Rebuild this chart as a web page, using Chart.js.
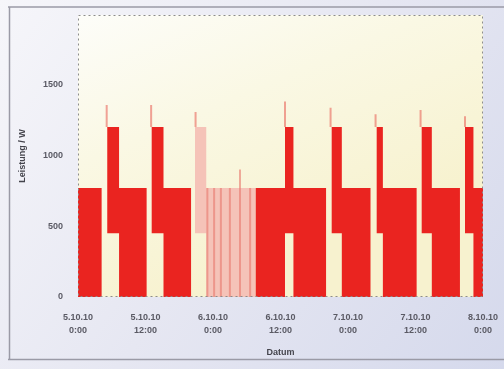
<!DOCTYPE html>
<html><head><meta charset="utf-8">
<script src="https://cdn.jsdelivr.net/npm/chart.js@4"></script>
<style>html,body{margin:0;padding:0;background:#e4e5f1;overflow:hidden}#wrap{width:504px;height:369px;position:relative}</style>
</head><body><div id="wrap"><canvas id="c" width="504" height="369"></canvas></div>
<script>
// time in hours since 5.10.10 0:00 (segment starts; last entry = end of record)
const segStart = [0, 4.2, 5.2, 7.3, 12.2, 13.1, 15.2, 20.1, 20.8, 22.8, 31.6, 36.8, 38.3, 44.1, 45.1, 46.9, 52.0, 53.1, 54.2, 60.2, 61.1, 62.9, 67.9, 68.8, 70.3, 72];
// dense on/off switching -> envelope of the trace (max / min power in W)
const redHigh  = [770, 0, 1200, 770, 0, 1200, 770, 0, 0, 0, 770, 1200, 770, 0, 1200, 770, 0, 1200, 770, 0, 1200, 770, 0, 1200, 770, 770];
const redLow   = [0, 0, 450, 0, 0, 450, 0, 0, 0, 0, 0, 450, 0, 0, 450, 0, 0, 450, 0, 0, 450, 0, 0, 450, 0, 0];
const pinkHigh = [0, 0, 0, 0, 0, 0, 0, 0, 1200, 770, 0, 0, 0, 0, 0, 0, 0, 0, 0, 0, 0, 0, 0, 0, 0, 0];
const pinkLow  = [0, 0, 0, 0, 0, 0, 0, 0, 450, 0, 0, 0, 0, 0, 0, 0, 0, 0, 0, 0, 0, 0, 0, 0, 0, 0];
// start-up peaks
const spikeT    = [5.1, 13.0, 20.9, 36.8, 44.9, 52.9, 60.9, 68.8];
const spikeTop  = [1355, 1355, 1305, 1380, 1335, 1290, 1320, 1275];
// darker streaks inside the faded section
const streakT   = [23.0, 24.2, 25.4, 27.0, 28.8, 30.6];
const streakTop = [770, 770, 770, 770, 900, 770];

const xTicks = [0, 12, 24, 36, 48, 60, 72];
const xTickLabels = [['5.10.10','0:00'],['5.10.10','12:00'],['6.10.10','0:00'],['6.10.10','12:00'],['7.10.10','0:00'],['7.10.10','12:00'],['8.10.10','0:00']];
const yTicks = [0, 500, 1000, 1500];

const pts = v => segStart.map((t, i) => ({x: t, y: v[i]}));
const vlines = (ts, tops, base) => ts.flatMap((t, i) => [{x: t, y: base}, {x: t, y: tops[i]}, {x: t, y: null}]);

const bgPlugin = {
  id: 'bg',
  beforeDraw(chart) {
    const ctx = chart.ctx, W = chart.width, H = chart.height, a = chart.chartArea;
    let g = ctx.createLinearGradient(0, 0, W, H);
    g.addColorStop(0, '#f6f6fa'); g.addColorStop(0.5, '#e6e7f2'); g.addColorStop(1, '#d5d9ec');
    ctx.fillStyle = g; ctx.fillRect(0, 0, W, H);
    ctx.strokeStyle = '#9a9aa6'; ctx.lineWidth = 1.5;
    ctx.beginPath(); ctx.moveTo(8, 7); ctx.lineTo(W, 7); ctx.moveTo(9.5, 7); ctx.lineTo(9.5, 360); ctx.moveTo(8, 359.5); ctx.lineTo(W, 359.5); ctx.stroke();
    g = ctx.createLinearGradient(a.left, a.top, a.left + 120, a.bottom);
    g.addColorStop(0, '#fdfdf9'); g.addColorStop(0.45, '#faf8e4'); g.addColorStop(1, '#f7f2cf');
    ctx.fillStyle = g; ctx.fillRect(a.left, a.top, a.right - a.left, a.bottom - a.top);
  },
  afterDatasetsDraw(chart) {
    const ctx = chart.ctx, a = chart.chartArea;
    ctx.save();
    ctx.strokeStyle = '#8c8c8c'; ctx.lineWidth = 1; ctx.setLineDash([2, 3]);
    ctx.strokeRect(a.left + 0.5, a.top + 0.5, a.right - a.left - 1, a.bottom - a.top - 1);
    ctx.restore();
  }
};

const font = {family: '"Liberation Sans", Arial, sans-serif', size: 9, weight: 'bold'};

new Chart(document.getElementById('c'), {
  type: 'line',
  data: {
    datasets: [
      {label: 'max', data: pts(redHigh), stepped: true, borderWidth: 0, pointRadius: 0, fill: '+1', backgroundColor: '#ea2420', order: 2},
      {label: 'min', data: pts(redLow), stepped: true, borderWidth: 0, pointRadius: 0, fill: false, order: 2},
      {label: 'max2', data: pts(pinkHigh), stepped: true, borderWidth: 0, pointRadius: 0, fill: '+1', backgroundColor: '#f5c3b8', order: 3},
      {label: 'min2', data: pts(pinkLow), stepped: true, borderWidth: 0, pointRadius: 0, fill: false, order: 3},
      {label: 'streaks', data: vlines(streakT, streakTop, 0), borderColor: 'rgba(232,120,108,0.6)', borderWidth: 2, pointRadius: 0, spanGaps: false, fill: false, order: 1},
      {label: 'peaks', data: vlines(spikeT, spikeTop, 1200), borderColor: 'rgba(232,90,80,0.55)', borderWidth: 2, pointRadius: 0, spanGaps: false, fill: false, order: 1}
    ]
  },
  options: {
    responsive: false, animation: false, devicePixelRatio: 1,
    layout: {padding: {left: 14, right: 21, top: 15, bottom: 8}},
    plugins: {legend: {display: false}, tooltip: {enabled: false}},
    scales: {
      x: {
        type: 'linear', min: 0, max: 72,
        afterBuildTicks: s => { s.ticks = xTicks.map(v => ({value: v})); },
        afterFit: s => { s.height = 64; s.paddingLeft = 0; s.paddingRight = 0; },
        grid: {display: false}, border: {display: false},
        ticks: {callback: v => xTickLabels[xTicks.indexOf(v)], color: '#5a5a64', font: Object.assign({lineHeight: 1.45}, font), padding: 6, maxRotation: 0, autoSkip: false},
        title: {display: true, text: 'Datum', color: '#44444c', font: Object.assign({lineHeight: 1.2}, font), padding: {top: 0, bottom: 3}}
      },
      y: {
        min: 0, max: 1990,
        afterBuildTicks: s => { s.ticks = yTicks.map(v => ({value: v})); },
        afterFit: s => { s.width = 64; s.paddingTop = 0; s.paddingBottom = 0; },
        grid: {display: false}, border: {display: false},
        ticks: {callback: v => String(v), color: '#5a5a64', font: font, padding: 7},
        title: {display: true, text: 'Leistung / W', color: '#44444c', font: Object.assign({lineHeight: 1.2}, font), padding: {top: 3, bottom: 0}}
      }
    }
  },
  plugins: [bgPlugin]
});
</script></body></html>
